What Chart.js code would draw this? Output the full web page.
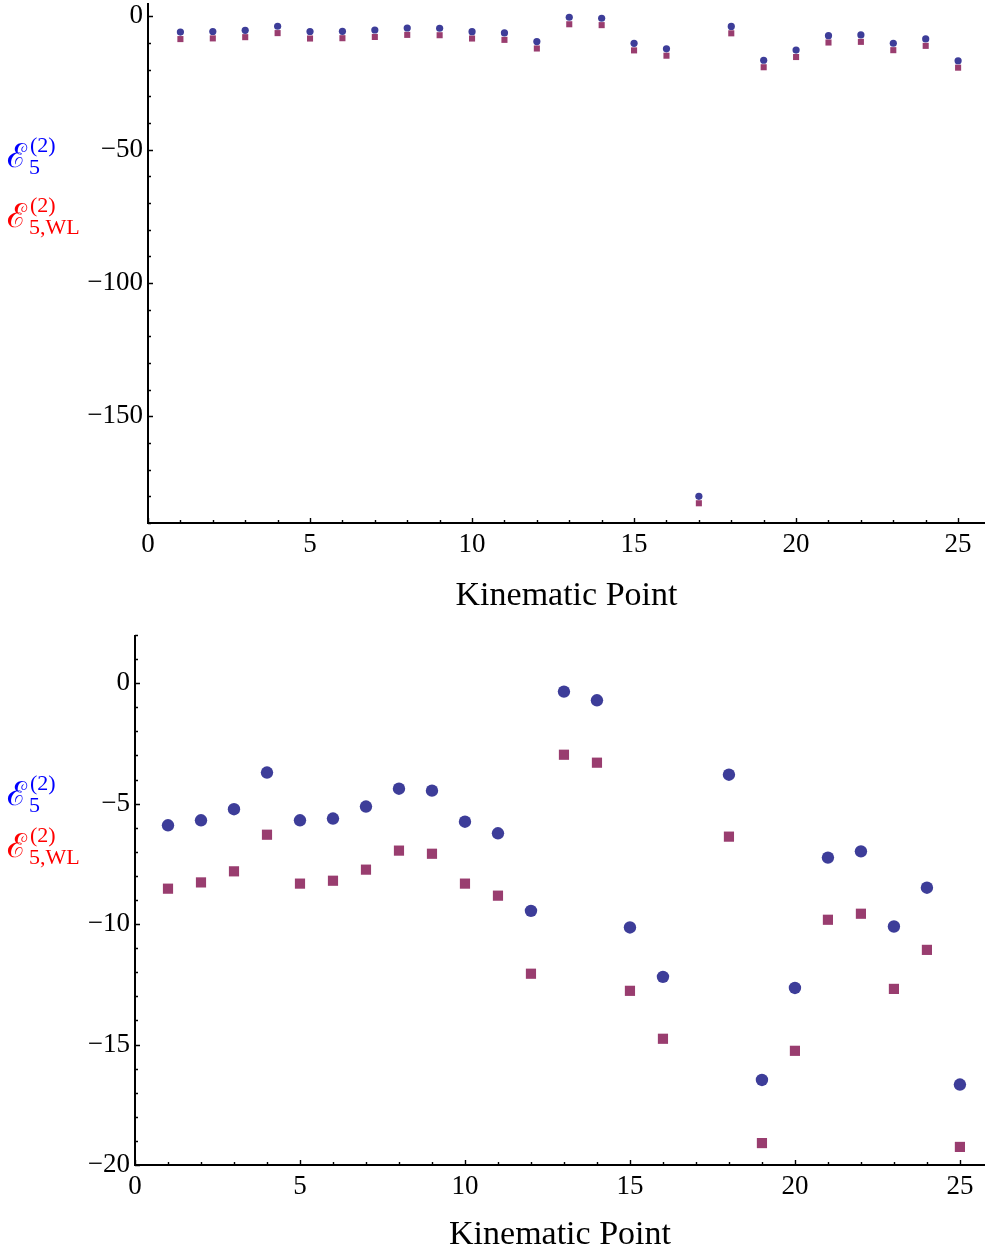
<!DOCTYPE html>
<html>
<head>
<meta charset="utf-8">
<script src="https://cdn.jsdelivr.net/npm/chart.js@4.4.0/dist/chart.umd.min.js"></script>
<style>
  html, body { margin: 0; padding: 0; background: #fff; }
  #wrap { position: relative; width: 985px; height: 1252px; }
  canvas { position: absolute; left: 0; }
  #full { top: 0; }
  #zoomed { top: 620px; }
</style>
</head>
<body>
<div id="wrap">
  <canvas id="full" width="985" height="620"></canvas>
  <canvas id="zoomed" width="985" height="632"></canvas>
</div>
<script>
// Kinematic points and the two second-order values at each point
const kinematicPoints = [1, 2, 3, 4, 5, 6, 7, 8, 9, 10, 11, 12, 13, 14, 15, 16, 17, 18, 19, 20, 21, 22, 23, 24, 25];
const e5 = [-5.90, -5.69, -5.23, -3.71, -5.69, -5.62, -5.12, -4.38, -4.46, -5.75, -6.23, -9.45, -0.35,
            -0.71, -10.14, -12.19, -180.0, -3.80, -16.47, -12.65, -7.24, -6.98, -10.10, -8.49, -16.66];
const e5WL = [-8.53, -8.27, -7.81, -6.29, -8.32, -8.20, -7.74, -6.95, -7.08, -8.32, -8.82, -12.06, -2.97,
              -3.30, -12.77, -14.76, -182.6, -6.37, -19.09, -15.26, -9.82, -9.57, -12.69, -11.07, -19.25];

// Tick labels
const xTicks = [0, 5, 10, 15, 20, 25];
const yTicksFull = [-150, -100, -50, 0];
const yTicksZoomed = [-20, -15, -10, -5, 0];

const BLUE = 'rgb(61,61,153)';
const PURPLE = 'rgb(153,61,111)';
const SERIF = '"Liberation Serif", "DejaVu Serif", serif';

const fmt = v => (v < 0 ? '\u2212' + Math.abs(v) : String(v));

// Mathematica-style ticks pointing into the plot area
const inwardTicks = {
  id: 'inwardTicks',
  afterDatasetsDraw(chart, args, o) {
    const { ctx, chartArea: a, scales: { x, y } } = chart;
    ctx.save();
    ctx.strokeStyle = '#000';
    ctx.lineWidth = 1.4;
    ctx.beginPath();
    for (let v = Math.ceil(x.min); v <= x.max; v += 1) {
      const px = Math.round(x.getPixelForValue(v)) + 0.5;
      const len = v % o.xMajor === 0 ? 5 : 3;
      ctx.moveTo(px, a.bottom);
      ctx.lineTo(px, a.bottom - len);
    }
    for (let v = Math.ceil(y.min / o.yMinor) * o.yMinor; v <= y.max; v += o.yMinor) {
      const py = Math.round(y.getPixelForValue(v)) + 0.5;
      const len = Math.abs(v % o.yMajor) < 1e-9 ? 5 : 3;
      ctx.moveTo(a.left, py);
      ctx.lineTo(a.left + len, py);
    }
    ctx.stroke();
    // axes
    ctx.lineWidth = 2;
    ctx.beginPath();
    ctx.moveTo(a.left, a.top);
    ctx.lineTo(a.left, a.bottom);
    ctx.lineTo(a.right, a.bottom);
    ctx.stroke();
    ctx.restore();
  }
};

// Coloured series names at the left of each panel
const seriesNames = {
  id: 'seriesNames',
  afterDraw(chart, args, o) {
    const ctx = chart.ctx;
    const draw = (base, color, sub) => {
      ctx.save();
      ctx.fillStyle = color;
      ctx.textBaseline = 'alphabetic';
      ctx.textAlign = 'left';
      ctx.font = '33px "DejaVu Serif", serif';
      ctx.fillText('\u2130', 7, base);
      ctx.font = '22px ' + SERIF;
      ctx.fillText(sub, 29, base + 7);
      ctx.fillText('(2)', 30, base - 15);
      ctx.restore();
    };
    draw(o.blueBase, '#0000ff', '5');
    draw(o.redBase, '#ff0000', '5,WL');
  }
};

function makeChart(id, cfg) {
  return new Chart(document.getElementById(id), {
    type: 'scatter',
    data: {
      datasets: [
        {
          label: 'E5',
          data: kinematicPoints.map((k, i) => ({ x: k, y: e5[i] })),
          backgroundColor: BLUE,
          pointStyle: 'circle',
          pointRadius: cfg.circleR,
          pointBorderWidth: 0,
          pointHoverRadius: cfg.circleR
        },
        {
          label: 'E5,WL',
          data: kinematicPoints.map((k, i) => ({ x: k, y: e5WL[i] })),
          backgroundColor: PURPLE,
          pointStyle: 'rect',
          pointRadius: cfg.squareR,
          pointBorderWidth: 0,
          pointHoverRadius: cfg.squareR
        }
      ]
    },
    options: {
      responsive: false,
      animation: false,
      events: [],
      layout: { autoPadding: false, padding: { left: 0, right: 0, top: cfg.top, bottom: 0 } },
      plugins: {
        legend: { display: false },
        tooltip: { enabled: false },
        inwardTicks: { xMajor: 5, yMajor: cfg.yMajor, yMinor: cfg.yMinor },
        seriesNames: { blueBase: cfg.blueBase, redBase: cfg.redBase }
      },
      scales: {
        x: {
          type: 'linear',
          min: 0,
          max: cfg.xMax,
          grid: { display: false, drawTicks: false },
          border: { display: false },
          afterBuildTicks: s => { s.ticks = xTicks.map(v => ({ value: v })); },
          afterFit: s => { s.height = cfg.xAxisHeight; s.paddingLeft = 0; s.paddingRight = 0; },
          ticks: {
            color: '#000',
            padding: cfg.xPad,
            maxRotation: 0,
            autoSkip: false,
            font: { family: SERIF, size: 27 },
            callback: fmt
          },
          title: {
            display: true,
            text: 'Kinematic Point',
            color: '#000',
            font: { family: SERIF, size: 34 },
            padding: { top: 0, bottom: cfg.titlePad }
          }
        },
        y: {
          type: 'linear',
          min: cfg.yMin,
          max: cfg.yMax,
          grid: { display: false, drawTicks: false },
          border: { display: false },
          afterBuildTicks: s => { s.ticks = cfg.yTicks.map(v => ({ value: v })); },
          afterFit: s => { s.width = cfg.yAxisWidth; s.paddingTop = 0; s.paddingBottom = 0; },
          ticks: {
            color: '#000',
            padding: 5,
            autoSkip: false,
            font: { family: SERIF, size: 27 },
            callback: fmt
          }
        }
      }
    },
    plugins: [inwardTicks, seriesNames]
  });
}

makeChart('full', {
  top: 3, xMax: 25.83, yMin: -190, yMax: 5, yTicks: yTicksFull, yMajor: 50, yMinor: 10,
  xAxisHeight: 97, yAxisWidth: 148, xPad: 6, titlePad: 4,
  circleR: 3.6, squareR: 4.3, blueBase: 167, redBase: 227
});

makeChart('zoomed', {
  top: 15, xMax: 25.76, yMin: -20, yMax: 2, yTicks: yTicksZoomed, yMajor: 5, yMinor: 1,
  xAxisHeight: 87, yAxisWidth: 135, xPad: 6, titlePad: -3,
  circleR: 6.2, squareR: 7.2, blueBase: 185, redBase: 237
});
</script>
</body>
</html>
